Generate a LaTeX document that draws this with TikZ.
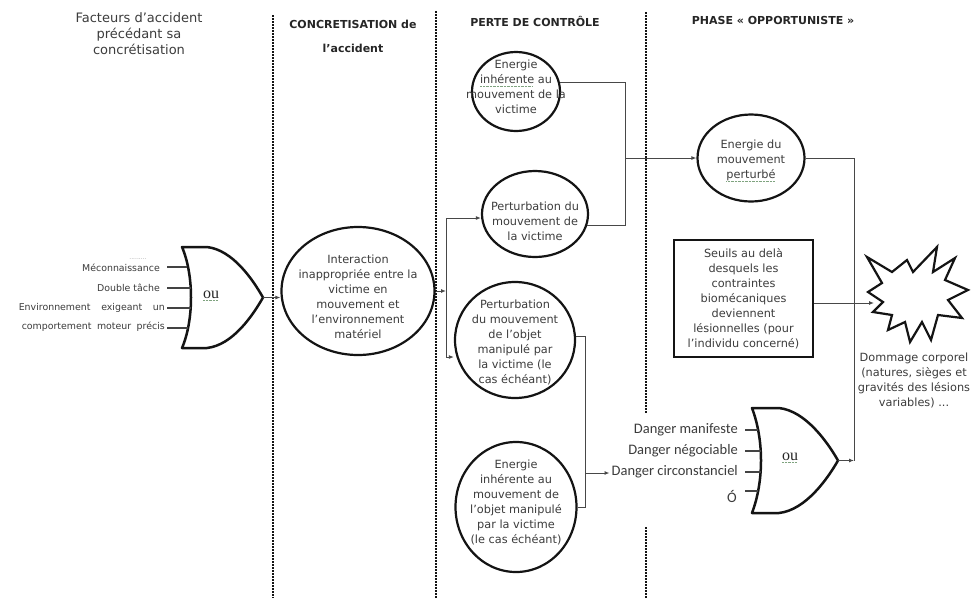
\documentclass[tikz,border=0pt]{standalone}
\usepackage{fontspec}
\setmainfont{DejaVu Sans}
\newfontfamily\dangerfont{Carlito}
\newfontfamily\oufont{Liberation Serif}
\usetikzlibrary{arrows.meta,calc,shapes.geometric}
\definecolor{txt}{HTML}{3C3C3C}
\definecolor{hdr}{HTML}{262626}
\definecolor{ink}{HTML}{141414}
\definecolor{wire}{HTML}{484848}
\definecolor{gulc}{HTML}{7FA37F}
\newsavebox\gulbox
\newcommand\gul[1]{\sbox\gulbox{#1}\rlap{\raisebox{-3pt}{\color{gulc}\hbox to \wd\gulbox{\leaders\hbox{\rule{0.9pt}{0.8pt}\hskip0.5pt}\hfil}}}\usebox\gulbox}
\tikzset{
  body/.style={font=\fontsize{11.3}{15}\selectfont, text=txt, align=center, inner sep=0pt},
  hdone/.style={font=\fontsize{13}{16}\selectfont, text=txt, align=center, inner sep=0pt},
  hdbold/.style={font=\fontsize{11}{24}\selectfont\bfseries, text=hdr, align=center, inner sep=0pt},
  lab/.style={font=\fontsize{9.4}{19}\selectfont, text=txt, inner sep=0pt},
  dlab/.style={font=\dangerfont\fontsize{14.5}{14.5}\selectfont, text=txt, inner sep=0pt},
  oulab/.style={font=\oufont\fontsize{16}{16}\selectfont, text=hdr, inner sep=0pt},
  ell/.style={draw=ink, line width=2.2pt, ellipse, inner sep=0pt},
  conn/.style={draw=wire, line width=1pt},
  arr/.style={conn, -{Latex[length=5pt,width=4pt]}},
  stub/.style={draw=ink!80, line width=1.4pt},
  divider/.style={draw=ink, line width=2pt, dash pattern=on 1.6pt off 1.4pt},
  gate/.style={draw=ink, line width=2.5pt, line join=round},
}
\begin{document}
\begin{tikzpicture}[x=1pt,y=-1pt]
\useasboundingbox[fill=white] (0,0) rectangle (974,598);

% dividers
\draw[divider] (273,15) -- (273,598);
\draw[divider] (436,11) -- (436,598);
\draw[divider] (646,12) -- (646,413);
\draw[divider] (646,527) -- (646,598);

% headings
\node[hdone] (h1) at (139,34) {Facteurs d'accident\\précédant sa\\concrétisation};
\node[hdbold] (h2) at (353,36) {CONCRETISATION de\\l’accident};
\node[hdbold] (h3) at (535,21) {PERTE DE CONTRÔLE};
\node[hdbold] (h4) at (773,20) {PHASE « OPPORTUNISTE »};

% left gate
\draw[gate] (182,247) -- (207,247) .. controls (233,250) and (253,280) .. (263,297.5)
  .. controls (253,315) and (233,345) .. (207,348) -- (182,348)
  .. controls (194,320) and (194,275) .. cycle;
\coordinate (g1out) at (263,297.5);
\node[oulab] (ou1) at (211,296) {\gul{ou}};
\coordinate (g1a) at (167,267); \coordinate (g1ae) at (187,267);
\coordinate (g1b) at (167,288); \coordinate (g1be) at (190.5,288);
\coordinate (g1c) at (167,308); \coordinate (g1ce) at (190.5,308);
\coordinate (g1d) at (167,328); \coordinate (g1de) at (188,328);
\draw[stub] (g1a) -- (g1ae);
\draw[stub] (g1b) -- (g1be);
\draw[stub] (g1c) -- (g1ce);
\draw[stub] (g1d) -- (g1de);
\node[lab, font=\fontsize{6}{6}\selectfont, text=gray!70] (m0) at (138,259) {.........};
\node[lab, anchor=east] (m1) at (160,268) {Méconnaissance};
\node[lab, anchor=east] (m2) at (160,288) {Double tâche};
\node[lab, anchor=east, align=right] (m3) at (165,317.5) {\hbox to 146pt{Environnement\hfill exigeant\hfill un}\\\hbox to 143pt{comportement\hfill moteur\hfill précis}};

% ellipses
\node[ell, minimum width=153pt, minimum height=128pt] (e1) at (358,291) {};
\node[body] (e1t) at (358,297) {Interaction\\inappropriée entre la\\victime en\\mouvement et\\l’environnement\\matériel};

\node[ell, minimum width=88pt, minimum height=79pt] (e2) at (516,91.5) {};
\node[body] (e2t) at (516,87) {Energie\\\gul{inhérente} au\\mouvement de la\\victime};

\node[ell, minimum width=106pt, minimum height=86pt] (e3) at (535,214) {};
\node[body] (e3t) at (535,221) {Perturbation du\\mouvement de\\la victime};

\node[ell, minimum width=120pt, minimum height=116pt] (e4) at (515,340) {};
\node[body] (e4t) at (515,342) {Perturbation\\du mouvement\\de l’objet\\manipulé par\\la victime (le\\cas échéant)};

\node[ell, minimum width=121pt, minimum height=130pt] (e6) at (516,507) {};
\node[body] (e6t) at (516,502.5) {Energie\\inhérente au\\mouvement de\\l’objet manipulé\\par la victime\\(le cas échéant)};

\node[ell, minimum width=107pt, minimum height=87pt] (e5) at (751,158) {};
\node[body] (e5t) at (751,161) {Energie du\\mouvement\\\gul{perturbé}};

% box
\node[draw=ink, line width=2.6pt, minimum width=139pt, minimum height=117pt, inner sep=0pt] (box) at (743.5,298.5) {};
\node[body] (boxt) at (743.5,299) {Seuils au delà\\desquels les\\contraintes\\biomécaniques\\deviennent\\lésionnelles (pour\\l’individu concerné)};

% star (explosion)
\draw[ink, line width=2.2pt, line join=miter, miter limit=4, fill=white]
  (867,257) -- (892,272) -- (907,260) -- (913,272) -- (937,247) -- (933,272)
  -- (955,258) -- (945,280) -- (968,290) -- (948,300) -- (962,318) -- (938,315)
  -- (931,340) -- (922,322) -- (910,342) -- (905,322) -- (888,330) -- (892,315)
  -- (873,312) -- (883,302) -- (868,292) -- (882,283) -- cycle;
\coordinate (starW) at (874,303);
\node[body] (start) at (914,380) {Dommage corporel\\(natures, sièges et\\gravités des lésions\\variables) ...};

% right gate
\draw[gate] (752,408) -- (779,408) .. controls (806,411) and (828,443) .. (838,460.5)
  .. controls (828,478) and (806,510) .. (779,513) -- (752,513)
  .. controls (764,481) and (764,440) .. cycle;
\coordinate (g2out) at (838,460.5);
\node[oulab] (ou2) at (790,458) {\gul{ou}};
\coordinate (g2a) at (745,430) ; \coordinate (g2ae) at (758,430);
\coordinate (g2b) at (745,451) ; \coordinate (g2be) at (760.5,451);
\coordinate (g2c) at (745,472) ; \coordinate (g2ce) at (760.5,472);
\coordinate (g2d) at (745,491) ; \coordinate (g2de) at (758,491);
\draw[stub] (g2a) -- (g2ae);
\draw[stub] (g2b) -- (g2be);
\draw[stub] (g2c) -- (g2ce);
\draw[stub] (g2d) -- (g2de);
\node[dlab, anchor=east] (d1) at (738,430) {Danger manifeste};
\node[dlab, anchor=east] (d2) at (738,451) {Danger négociable};
\node[dlab, anchor=east] (d3) at (738,472) {Danger circonstanciel};
\node[dlab] (d4) at (732,496) {Ó};

% connectors
\draw[arr] (g1out) -- (g1out -| e1.west);
\coordinate (j1) at (446,291);
\coordinate (j1t) at (446,218);
\coordinate (j1b) at (446,357);
\draw[arr] (e1.east) -- (j1);
\draw[conn] (j1t) -- (j1b);
\draw[arr] (j1t) -- (j1t -| e3.west);
\draw[arr] (j1b) -- (j1b -| e4.west);

\coordinate (j2) at (625,158);
\draw[conn] (e2.11) -| (j2);
\draw[conn] (e3.348) -| (j2);
\draw[arr] (j2) -- (e5.west);

\coordinate (j3) at (585,473);
\draw[conn] (e4.3) -| (j3);
\draw[conn] (e6.east) -| (j3);
\draw[arr] (j3) -- ([xshift=-2pt]j3 -| d3.west);

\coordinate (j4) at (854,460.5);
\draw[conn] (e5.east) -| (j4);
\draw[arr] (g2out) -- (j4);

\draw[arr] ([yshift=-4.5pt]box.east) -- (starW);
\end{tikzpicture}
\end{document}
